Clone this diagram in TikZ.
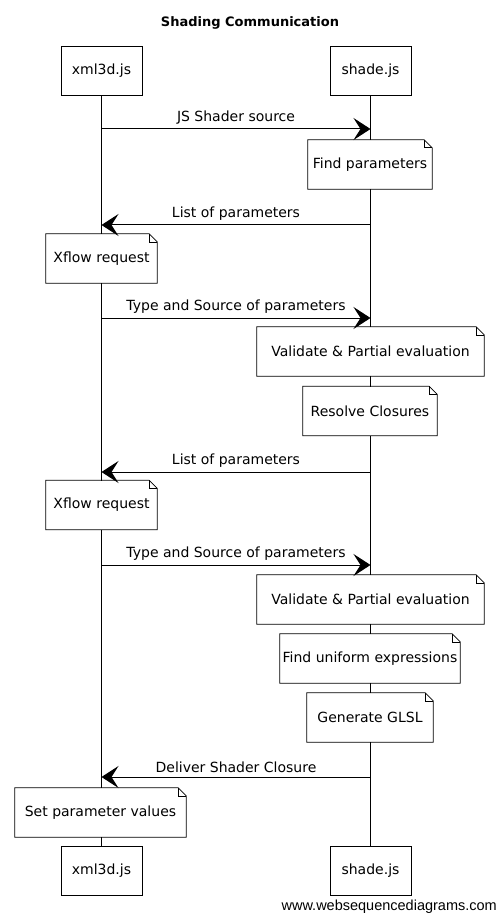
\documentclass[tikz,border=0pt]{standalone}
\usepackage{fontspec}
\setmainfont{DejaVu Sans}
\newfontfamily\footfont{Liberation Sans}
\usetikzlibrary{arrows.meta,calc}
\tikzset{
  txt/.style={font=\fontsize{14}{16}\selectfont},
  actor/.style={txt, draw, line width=0.8pt, fill=white, minimum width=81pt, minimum height=49pt, inner sep=0pt},
  notebox/.style={txt, fill=white, minimum height=49pt, inner sep=0pt},
  msg/.style={line width=1pt, -{Stealth[length=17pt,width=22pt,inset=7pt]}},
  lbl/.style={txt, inner sep=0pt},
  life/.style={line width=0.8pt},
  noteline/.style={line width=0.8pt},
}
\newcommand{\foldnote}[1]{%
  \draw[noteline] (#1.north west) -- ($(#1.north east)+(-8,0)$) -- ($(#1.north east)+(0,8)$) -- (#1.south east) -- (#1.south west) -- cycle;
  \draw[line width=0.6pt] ($(#1.north east)+(-8,0)$) -- ($(#1.north east)+(-8,8)$) -- ($(#1.north east)+(0,8)$);}
\begin{document}
\begin{tikzpicture}[x=1pt,y=-1pt]
\fill[white] (0,0) rectangle (498,917);
\useasboundingbox (0,0) rectangle (498,917);

% title
\node[font=\fontsize{13}{15}\selectfont\bfseries, inner sep=0pt] (title) at (250,23) {Shading Communication};

% participants
\node[actor] (xt) at (101.5,70.5) {xml3d.js};
\node[actor] (st) at (370.5,70.5) {shade.js};
\node[actor] (xb) at (101.5,870.5) {xml3d.js};
\node[actor] (sb) at (370.5,870.5) {shade.js};

% lifelines
\draw[life] (xt.south) -- (xb.north);
\draw[life] (st.south) -- (sb.north);

% message end points
\coordinate (l1) at (101.5,129); \coordinate (r1) at (370.5,129);
\coordinate (l2) at (101.5,225); \coordinate (r2) at (370.5,225);
\coordinate (l3) at (101.5,318); \coordinate (r3) at (370.5,318);
\coordinate (l4) at (101.5,472); \coordinate (r4) at (370.5,472);
\coordinate (l5) at (101.5,565); \coordinate (r5) at (370.5,565);
\coordinate (l6) at (101.5,777); \coordinate (r6) at (370.5,777);

% notes
\node[notebox, minimum width=124pt] (n1) at (370,164.5) {Find parameters};
\foldnote{n1}
\node[notebox, minimum width=111pt] (n2) at (101.5,258.5) {Xflow request};
\foldnote{n2}
\node[notebox, minimum width=227pt] (n3) at (370.5,351.5) {Validate \& Partial evaluation};
\foldnote{n3}
\node[notebox, minimum width=134pt] (n4) at (370,411) {Resolve Closures};
\foldnote{n4}
\node[notebox, minimum width=111pt] (n5) at (101.5,505) {Xflow request};
\foldnote{n5}
\node[notebox, minimum width=227pt] (n6) at (370.5,599.5) {Validate \& Partial evaluation};
\foldnote{n6}
\node[notebox, minimum width=180pt] (n7) at (370,658.5) {Find uniform expressions};
\foldnote{n7}
\node[notebox, minimum width=126pt] (n8) at (370,717.5) {Generate GLSL};
\foldnote{n8}
\node[notebox, minimum width=171pt] (n9) at (100.5,812.5) {Set parameter values};
\foldnote{n9}

% messages
\draw[msg] (l1) -- node[lbl, above=4pt] (m1) {JS Shader source} (r1);
\draw[msg] (r2) -- node[lbl, above=4pt] (m2) {List of parameters} (l2);
\draw[msg] (l3) -- node[lbl, above=4pt] (m3) {Type and Source of parameters} (r3);
\draw[msg] (r4) -- node[lbl, above=4pt] (m4) {List of parameters} (l4);
\draw[msg] (l5) -- node[lbl, above=4pt] (m5) {Type and Source of parameters} (r5);
\draw[msg] (r6) -- node[lbl, above=4pt] (m6) {Deliver Shader Closure} (l6);

% footer
\node[font=\footfont\fontsize{14.5}{16}\selectfont, inner sep=0pt, anchor=base east] (foot) at (497,910) {www.websequencediagrams.com};
\end{tikzpicture}
\end{document}
